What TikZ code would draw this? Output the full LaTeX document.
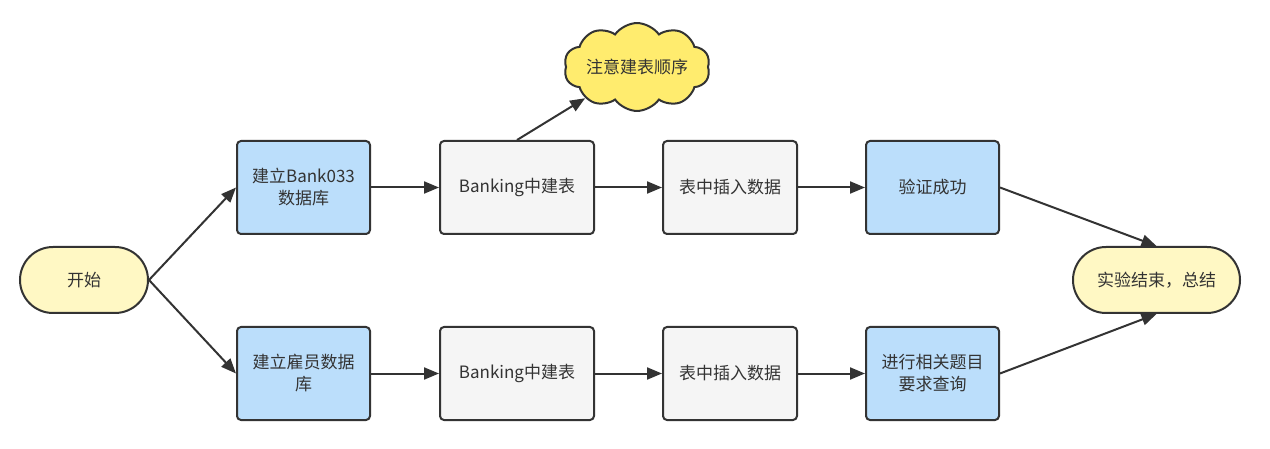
\documentclass[tikz,border=0pt]{standalone}
\usepackage{fontspec}
\setmainfont{Noto Sans CJK SC}
\usetikzlibrary{arrows.meta,shapes.misc,shapes.symbols}
\definecolor{edge}{HTML}{333333}
\definecolor{pillfill}{HTML}{FFF8C4}
\definecolor{bluefill}{HTML}{BBDEFB}
\definecolor{grayfill}{HTML}{F5F5F5}
\definecolor{cloudfill}{HTML}{FFEC6E}
\tikzset{
  base/.style={draw=edge, line width=2pt, text=edge, font=\fontsize{17}{22}\selectfont, align=center, inner sep=2pt},
  pill/.style={base, rounded rectangle, fill=pillfill, minimum height=66pt},
  bluebox/.style={base, rectangle, rounded corners=4pt, fill=bluefill, minimum width=133pt, minimum height=93pt, text width=124pt},
  graybox/.style={base, rectangle, rounded corners=4pt, fill=grayfill, minimum height=93pt},
  cloudnode/.style={base, cloud, cloud puffs=10, cloud puff arc=110, aspect=1.9, fill=cloudfill, minimum width=146pt, minimum height=80pt, inner xsep=-4pt, inner ysep=-6pt},
  conn/.style={draw=edge, line width=2pt, -{Triangle[length=15pt,width=12pt]}}
}
\begin{document}
\begin{tikzpicture}[x=1pt,y=-1pt]
\useasboundingbox (0,0) rectangle (1270,449);
\node[pill, minimum width=132pt] (start) at (84,280) {开始};
\node[pill, minimum width=171pt] (end) at (1156.5,280) {实验结束，总结};
\node[bluebox] (a1) at (303.5,187.5) {建立Bank033\\数据库};
\node[graybox, minimum width=154pt] (a2) at (517,187.5) {Banking中建表};
\node[graybox, minimum width=134pt] (a3) at (730,187.5) {表中插入数据};
\node[bluebox] (a4) at (932.5,187.5) {验证成功};
\node[bluebox] (b1) at (303.5,373.5) {建立雇员数据\\库};
\node[graybox, minimum width=154pt] (b2) at (517,373.5) {Banking中建表};
\node[graybox, minimum width=134pt] (b3) at (730,373.5) {表中插入数据};
\node[bluebox] (b4) at (932.5,373.5) {进行相关题目\\要求查询};
\node[cloudnode] (note) at (637,67) {注意建表顺序};
\draw[conn] (start.east) -- (a1.west);
\draw[conn] (start.east) -- (b1.west);
\draw[conn] (a1) -- (a2);
\draw[conn] (a2) -- (a3);
\draw[conn] (a3) -- (a4);
\draw[conn] (b1) -- (b2);
\draw[conn] (b2) -- (b3);
\draw[conn] (b3) -- (b4);
\draw[conn] (a2.north) -- (note.south west);
\draw[conn] (a4.east) -- (end.north);
\draw[conn] (b4.east) -- (end.south);
\end{tikzpicture}
\end{document}
